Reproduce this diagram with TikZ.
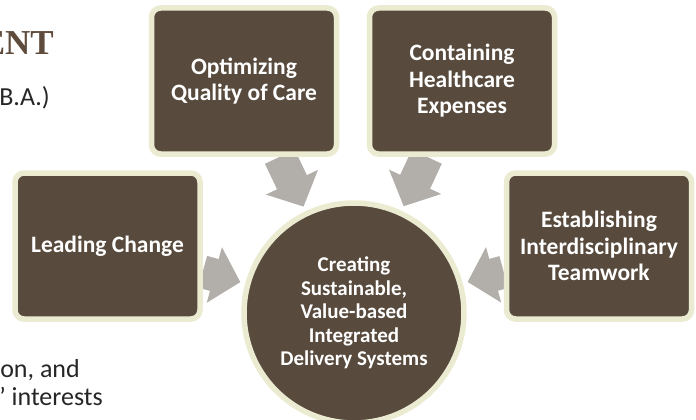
\documentclass[tikz,border=0pt]{standalone}
\usepackage{fontspec}
\setmainfont{Carlito}
\newfontfamily\headfont{Liberation Serif}
\usetikzlibrary{arrows.meta,backgrounds}
\definecolor{boxfill}{HTML}{584B3E}
\definecolor{boxline}{HTML}{EBEBD1}
\definecolor{arrowgray}{HTML}{B2AEAA}
\definecolor{headbrown}{HTML}{5E4B3C}
\definecolor{bodytext}{HTML}{262626}
\tikzset{%
    valuebox/.style={draw=boxline, fill=boxfill, line width=5.5pt, rounded corners=9pt,
        minimum width=185pt, minimum height=146pt, text=white, align=center,
        font=\bfseries\fontsize{23.5}{26.5}\selectfont},
    valuecircle/.style={circle, draw=boxline, fill=boxfill, line width=5.5pt,
        minimum size=220pt, text=white, align=center,
        font=\bfseries\fontsize{21}{23.5}\selectfont},
    blockarrow/.style={draw=arrowgray, line width=33pt,
        -{Triangle[length=27pt,width=56pt]}, shorten >=5pt},
    slidetext/.style={anchor=base east, inner sep=0pt, text=bodytext,
        font=\fontsize{26}{31}\selectfont}
}

\begin{document}
\begin{tikzpicture}[x=1pt,y=-1pt]
    \useasboundingbox (0,0) rectangle (696,420);

    \node[valuebox] (optimizing) at (244,81) {Optimizing\\Quality of Care};
    \node[valuebox] (containing) at (462,81) {Containing\\Healthcare\\Expenses};
    \node[valuebox] (leading) at (107.5,246) {Leading Change};
    \node[valuebox] (establishing) at (599,246) {Establishing\\Interdisciplinary\\Teamwork};
    \node[valuecircle] (creating) at (354,313) {Creating\\Sustainable,\\Value-based\\Integrated\\Delivery Systems};

    \begin{pgfonlayer}{background}
        \draw[blockarrow] (optimizing) -- (creating);
        \draw[blockarrow] (containing) -- (creating);
        \draw[blockarrow] (leading) -- (creating);
        \draw[blockarrow] (establishing) -- (creating);
    \end{pgfonlayer}

    \node[anchor=base east, inner sep=0pt, text=headbrown,
        font=\headfont\bfseries\fontsize{35}{40}\selectfont] (heading) at (54,55) {ENT};
    \node[slidetext] (degree) at (50,106) {B.A.)};
    \node[slidetext] (lineone) at (80,377) {on, and};
    \node[slidetext] (linetwo) at (103,405) {’ interests};
\end{tikzpicture}
\end{document}
